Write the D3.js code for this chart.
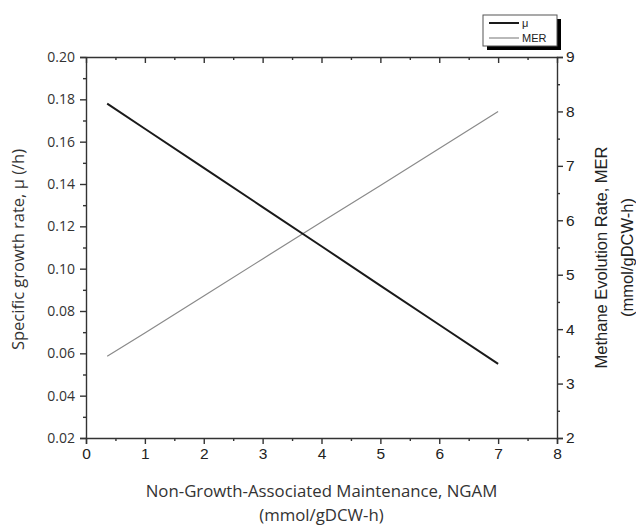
<!DOCTYPE html>
<html>
<head>
<meta charset="utf-8">
<script src="https://cdn.jsdelivr.net/npm/d3@7"></script>
<style>
  body { margin: 0; background: #fff; }
  svg { display: block; overflow: visible; }
</style>
</head>
<body>
<div class="canvas"></div>
<script>
const ngam = [0.36, 1, 2, 3, 4, 5, 6, 7];
const mu = [0.178, 0.1661, 0.1476, 0.1291, 0.1106, 0.092, 0.0735, 0.055];
const mer = [3.5, 3.93, 4.61, 5.29, 5.97, 6.64, 7.32, 8.0];
const xTicks = [0, 1, 2, 3, 4, 5, 6, 7, 8];
const muTicks = [0.02, 0.04, 0.06, 0.08, 0.1, 0.12, 0.14, 0.16, 0.18, 0.2];
const merTicks = [2, 3, 4, 5, 6, 7, 8, 9];
const legendItems = ["μ", "MER"];

const width = 636;
const height = 525;
const margin = { top: 57, right: 79, bottom: 87, left: 86 };
const innerWidth = width - margin.left - margin.right;
const innerHeight = height - margin.top - margin.bottom;

const svg = d3
  .select(".canvas")
  .append("svg")
  .attr("width", width)
  .attr("height", height);

const chart = svg
  .append("g")
  .attr("transform", `translate(${margin.left}, ${margin.top})`);

const x = d3.scaleLinear().domain([0, 8]).range([0, innerWidth]);
const yLeft = d3.scaleLinear().domain([0.02, 0.2]).range([innerHeight, 0]);
const yRight = d3.scaleLinear().domain([2, 9]).range([innerHeight, 0]);

const arial = "'Liberation Sans', Arial, sans-serif";
const calibri = "'Open Sans', 'Noto Sans', sans-serif";

function minor(ticks, step) {
  return ticks.slice(0, -1).map((d) => d + step / 2);
}

// bottom axis
chart
  .append("g")
  .attr("transform", `translate(0, ${innerHeight})`)
  .call(d3.axisBottom(x).tickValues(xTicks).tickFormat(d3.format("d")).tickSize(6).tickPadding(4))
  .call((g) => g.selectAll("text").attr("font-family", arial).attr("font-size", 15.5).attr("fill", "#222"));
chart
  .append("g")
  .attr("transform", `translate(0, ${innerHeight})`)
  .call(d3.axisBottom(x).tickValues(minor(xTicks, 1)).tickFormat("").tickSize(3))
  .call((g) => g.select(".domain").remove());

// top axis, ticks inward
chart
  .append("g")
  .call(d3.axisBottom(x).tickValues(xTicks).tickFormat("").tickSize(6).tickSizeOuter(0));
chart
  .append("g")
  .call(d3.axisBottom(x).tickValues(minor(xTicks, 1)).tickFormat("").tickSize(3))
  .call((g) => g.select(".domain").remove());

// left axis
chart
  .append("g")
  .call(d3.axisLeft(yLeft).tickValues(muTicks).tickFormat(d3.format(".2f")).tickSize(6).tickPadding(5))
  .call((g) => g.selectAll("text").attr("font-family", calibri).attr("font-size", 14).attr("fill", "#333"));
chart
  .append("g")
  .call(d3.axisLeft(yLeft).tickValues(minor(muTicks, 0.02)).tickFormat("").tickSize(3))
  .call((g) => g.select(".domain").remove());

// right axis
chart
  .append("g")
  .attr("transform", `translate(${innerWidth}, 0)`)
  .call(d3.axisRight(yRight).tickValues(merTicks).tickFormat(d3.format("d")).tickSize(6).tickPadding(3))
  .call((g) => g.selectAll("text").attr("font-family", arial).attr("font-size", 15.5).attr("fill", "#222"));
chart
  .append("g")
  .attr("transform", `translate(${innerWidth}, 0)`)
  .call(d3.axisRight(yRight).tickValues(minor(merTicks, 1)).tickFormat("").tickSize(3))
  .call((g) => g.select(".domain").remove());

chart.selectAll(".domain, .tick line").attr("stroke", "#333").attr("stroke-width", 1.4);

// lines
const muLine = d3.line().x((d, i) => x(ngam[i])).y((d) => yLeft(d));
const merLine = d3.line().x((d, i) => x(ngam[i])).y((d) => yRight(d));

chart
  .append("path")
  .datum(mer)
  .attr("d", merLine)
  .attr("fill", "none")
  .attr("stroke", "#8a8a8a")
  .attr("stroke-width", 1.2);

chart
  .append("path")
  .datum(mu)
  .attr("d", muLine)
  .attr("fill", "none")
  .attr("stroke", "#1a1a1a")
  .attr("stroke-width", 2);

// axis titles
svg
  .append("text")
  .attr("transform", `translate(24, ${margin.top + innerHeight / 2 + 2}) rotate(-90)`)
  .attr("text-anchor", "middle")
  .attr("font-family", calibri)
  .attr("font-size", 16.5)
  .attr("fill", "#333")
  .text("Specific growth rate, μ (/h)");

const rightTitle = svg
  .append("text")
  .attr("transform", `translate(607, ${margin.top + innerHeight / 2 + 10}) rotate(-90)`)
  .attr("text-anchor", "middle")
  .attr("font-family", arial)
  .attr("font-size", 16.5)
  .attr("fill", "#222");
rightTitle.append("tspan").attr("x", 0).attr("dy", 0).text("Methane Evolution Rate, MER");
rightTitle.append("tspan").attr("x", 0).attr("dy", 26).text("(mmol/gDCW-h)");

const bottomTitle = svg
  .append("text")
  .attr("text-anchor", "middle")
  .attr("font-family", calibri)
  .attr("font-size", 16.8)
  .attr("fill", "#333");
bottomTitle.append("tspan").attr("x", margin.left + innerWidth / 2).attr("y", 497).text("Non-Growth-Associated Maintenance, NGAM");
bottomTitle.append("tspan").attr("x", margin.left + innerWidth / 2).attr("y", 521).text("(mmol/gDCW-h)");

// legend
const legend = svg.append("g").attr("transform", "translate(483, 15)");
legend.append("rect").attr("x", 4).attr("y", 4).attr("width", 74).attr("height", 31).attr("fill", "#000");
legend
  .append("rect")
  .attr("width", 74)
  .attr("height", 31)
  .attr("fill", "#fff")
  .attr("stroke", "#555")
  .attr("stroke-width", 1);

const legendRow = legend
  .selectAll(".row")
  .data(legendItems)
  .enter()
  .append("g")
  .attr("transform", (d, i) => `translate(0, ${8 + i * 15})`);
legendRow
  .append("line")
  .attr("x1", 6)
  .attr("x2", 36)
  .attr("stroke", (d, i) => (i === 0 ? "#1a1a1a" : "#8a8a8a"))
  .attr("stroke-width", (d, i) => (i === 0 ? 2 : 1.2));
legendRow
  .append("text")
  .attr("x", 39)
  .attr("y", 4)
  .attr("font-family", arial)
  .attr("font-size", 11)
  .attr("fill", "#222")
  .text((d) => d);
</script>
</body>
</html>
